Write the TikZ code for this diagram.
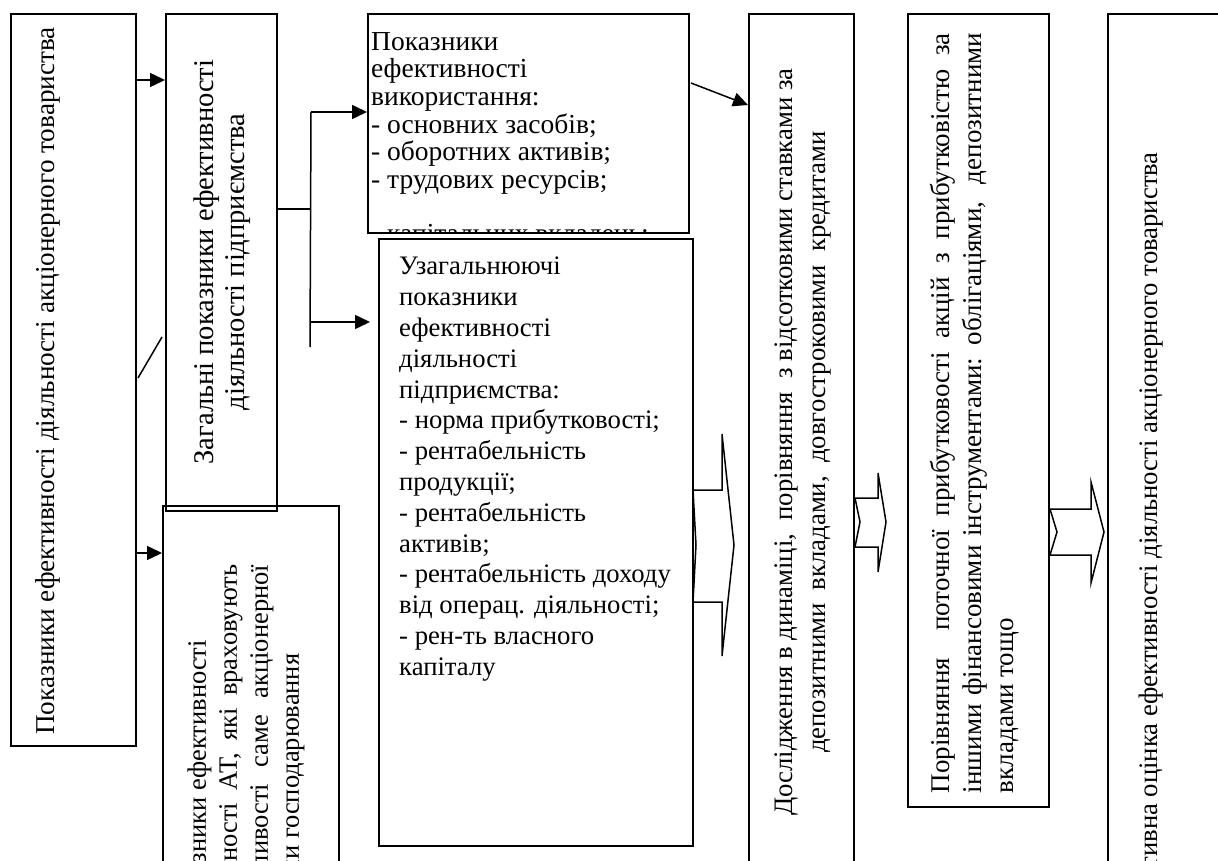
\documentclass[tikz,border=0pt]{standalone}
\usepackage{fontspec}
\setmainfont{Liberation Serif}
\usetikzlibrary{arrows.meta}

\begin{document}
\begin{tikzpicture}[x=1pt,y=-1pt]
		% Styles
		\tikzstyle{boite}=[draw,line width=1.6pt,inner sep=0pt,anchor=north west]
		\tikzstyle{lien}=[-,line width=1.5pt]
		\tikzstyle{lienFleche}=[-{Triangle[length=15pt,width=14pt]},line width=1.5pt]
		\tikzstyle{grosseFleche}=[draw,line width=1.5pt,line join=miter]
		\tikzstyle{texteV}=[rotate=90,inner sep=0pt,align=center]
		\tikzstyle{texteH}=[anchor=north west,inner sep=0pt,align=left]
		% Taille du texte
		\def\Police{26.7}
		% Cadre
		\useasboundingbox (0,0) rectangle (1218,861);
		\clip (0,0) rectangle (1218,861);
		% Boites
		\node[boite,minimum width=176pt,minimum height=560pt] (Pat) at (162,505) {};
		\node[boite,minimum width=125pt,minimum height=732pt] (Pa) at (10,13) {};
		\node[boite,minimum width=111pt,minimum height=497pt] (Pg) at (165,13) {};
		\node[boite,minimum width=321pt,minimum height=219pt] (Pv) at (367,13) {};
		\node[boite,minimum width=314pt,minimum height=607pt] (Pu) at (378,238) {};
		\node[boite,minimum width=105pt,minimum height=900pt] (Dd) at (748,13) {};
		\node[boite,minimum width=141pt,minimum height=793pt] (Pp) at (907,13) {};
		\node[boite,minimum width=200pt,minimum height=900pt] (Ko) at (1107,13) {};
		% Textes
		\node[texteV,font=\fontsize{27.2}{34}\selectfont] (tPa) at (48,381) {Показники ефективності діяльності акціонерного товариства};
		\node[texteV,font=\fontsize{28.5}{31}\selectfont] (tPg) at (222,262) {Загальні показники ефективності\\діяльності підприємства};
		\node[texteV,align=left,anchor=west,font=\fontsize{26.5}{31}\selectfont] (tPat) at (246,920) {Показники ефективності\\\makebox[355pt][s]{діяльності АТ, які враховують}\\\makebox[355pt][s]{особливості саме акціонерної}\\форми господарювання};
		\begin{scope}
			\clip (Pv.north west) rectangle (Pv.south east);
			\node[texteH,font=\fontsize{27.5}{27.6}\selectfont] (tPv) at (371,32) {Показники\\ефективності\\використання:\\- основних засобів;\\- оборотних активів;\\- трудових ресурсів;\\[27pt]- капітальних вкладень;};
		\end{scope}
		\node[texteH,font=\fontsize{\Police}{30.8}\selectfont] (tPu) at (399,257) {Узагальнюючі\\показники\\ефективності\\діяльності\\підприємства:\\- норма прибутковості;\\- рентабельність\\продукції;\\- рентабельність\\активів;\\- рентабельність доходу\\від операц. діяльності;\\- рен-ть власного\\капіталу};
		\node[texteV,font=\fontsize{\Police}{33}\selectfont] (tDd) at (803,442) {Дослідження в динаміці,~ порівняння~ з відсотковими ставками за\\депозитними~ вкладами,~ довгостроковими~ кредитами};
		\node[texteV,align=justify,text width=760pt,font=\fontsize{27}{32}\selectfont] (tPp) at (975,413) {Порівняння~ поточної прибутковості акцій з прибутковістю за\linebreak іншими фінансовими інструментами: облігаціями,~ депозитними\linebreak вкладами тощо};
		\node[texteV,anchor=base east,font=\fontsize{\Police}{30}\selectfont] (tKo) at (1157,152) {Об’єктивна оцінка ефективності діяльності акціонерного товариства};
		% Points de passage
		\coordinate (tr1) at (136,80);
		\coordinate (tr2) at (136,615);
		\coordinate (tr3) at (136,553);
		\coordinate (d1) at (138,378);
		\coordinate (d2) at (162,337);
		\coordinate (b0) at (311,209);
		\coordinate (b1) at (311,112);
		\coordinate (b2) at (310,347);
		\coordinate (b3) at (311,322);
		\coordinate (e1) at (691,83);
		\coordinate (e2) at (748,105);
		% Liens
		\draw[lien] (tr1) -- (tr2);
		\draw[lienFleche] (tr1) -- (Pg.west |- tr1);
		\draw[lienFleche] (tr3) -- (Pat.west |- tr3);
		\draw[lien] (d1) -- (d2);
		\draw[lien] (Pg.east |- b0) -- (b0);
		\draw[lien] (b1) -- (b2);
		\draw[lienFleche] (b1) -- (Pv.west |- b1);
		\draw[lienFleche,shorten >=8pt] (b3) -- (Pu.west |- b3);
		\draw[lienFleche] (e1) -- (e2);
		% Grosses fleches
		\draw[grosseFleche] (693,490) -- (722,490) -- (722,434) -- (734,545) -- (722,656) -- (722,602) -- (693,602) -- (696,545) -- cycle;
		\draw[grosseFleche] (855,498) -- (878,498) -- (878,473) -- (886,522) -- (878,572) -- (878,547) -- (855,547) -- (860,522) -- cycle;
		\draw[grosseFleche] (1050,509) -- (1091,509) -- (1091,482) -- (1104,532) -- (1091,583) -- (1091,555) -- (1050,555) -- (1057,532) -- cycle;
\end{tikzpicture}
\end{document}
